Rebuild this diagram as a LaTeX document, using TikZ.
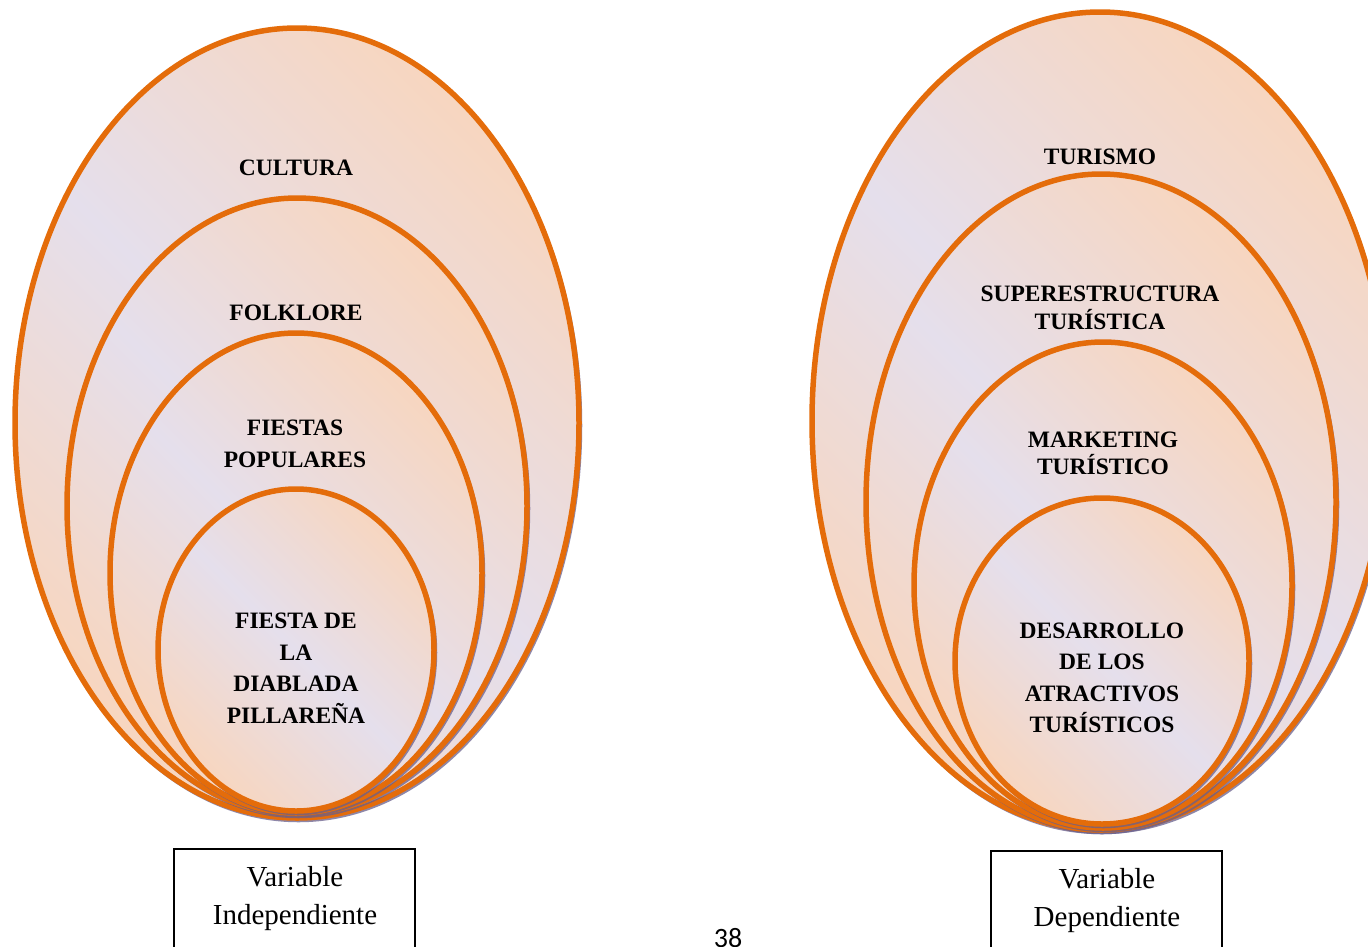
\documentclass[tikz,border=0pt]{standalone}
\usepackage{fontspec}
\setmainfont{Liberation Serif}
\newfontfamily\pagenumfont{Carlito}
\definecolor{ringorange}{HTML}{E46C0A}
\definecolor{peach}{RGB}{247,214,192}
\definecolor{lav}{RGB}{229,223,236}
\definecolor{shadowpurple}{RGB}{105,95,140}
\tikzset{
  ringshadow/.style={draw=shadowpurple, line width=3.5pt, opacity=0.75},
  ringfill/.style={top color=peach, bottom color=peach, middle color=lav, shading angle=-45},
  ringline/.style={draw=ringorange, line width=5.5pt},
  ringlabel/.style={font=\bfseries\fontsize{23.5}{31.5}\selectfont, align=center, inner sep=0pt},
  varbox/.style={draw=black, line width=1.5pt},
  vartext/.style={font=\fontsize{29}{38}\selectfont, align=center, inner sep=0pt}
}
\newcommand{\ring}[4]{%
  \draw[ringshadow] (#1+1.5,#2+2.5) ellipse [x radius=#3pt, y radius=#4pt];
  \shade[ringfill] (#1,#2) ellipse [x radius=#3pt, y radius=#4pt];
  \draw[ringline] (#1,#2) ellipse [x radius=#3pt, y radius=#4pt];
}
\begin{document}
\begin{tikzpicture}[x=1pt,y=-1pt]
\useasboundingbox (0,0) rectangle (1368,946);
\clip (0,0) rectangle (1368,946);
\fill[white] (0,0) rectangle (1368,946);
% left group
\ring{297}{423}{282}{395}
\ring{297}{506}{230}{308}
\ring{296}{573}{186}{240}
\ring{296}{650}{138}{161}
\node[ringlabel] (cultura) at (296,168) {CULTURA};
\node[ringlabel] (folklore) at (296,313) {FOLKLORE};
\node[ringlabel] (fiestas) at (295,444) {FIESTAS\\POPULARES};
\node[ringlabel] (diablada) at (296,668) {FIESTA DE\\LA\\DIABLADA\\PILLAREÑA};
% right group
\ring{1100}{421}{288}{409}
\ring{1101}{502}{235}{328}
\ring{1103}{585}{189}{243}
\ring{1102}{661}{147}{163}
\node[ringlabel] (turismo) at (1100,157) {TURISMO};
\node[ringlabel, font=\bfseries\fontsize{23.5}{28}\selectfont] (super) at (1100,308) {SUPERESTRUCTURA\\TURÍSTICA};
\node[ringlabel, font=\bfseries\fontsize{23.5}{27}\selectfont] (marketing) at (1103,453) {MARKETING\\TURÍSTICO};
\node[ringlabel] (desarrollo) at (1102,678) {DESARROLLO\\DE LOS\\ATRACTIVOS\\TURÍSTICOS};
% variable boxes
\draw[varbox] (174,849) rectangle (415,970);
\draw[varbox] (991,851) rectangle (1222,970);
\node[vartext] (indep) at (295,899) {Variable\\Independiente};
\node[vartext] (dep) at (1107,901) {Variable\\Dependiente};
% page number
\node[font=\pagenumfont\fontsize{28}{32}\selectfont, anchor=base, inner sep=0pt] (pagenum) at (728,947) {38};
\end{tikzpicture}
\end{document}
